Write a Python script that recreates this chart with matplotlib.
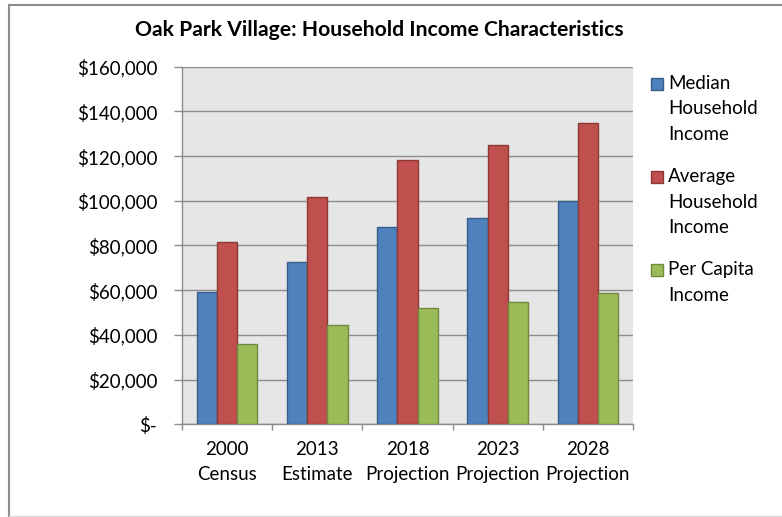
import matplotlib
matplotlib.use('Agg')
from matplotlib import pyplot as plt
from matplotlib.patches import Rectangle
from matplotlib.lines import Line2D
from matplotlib.ticker import FuncFormatter
import numpy as np

plt.rcParams['font.family'] = ['Lato', 'DejaVu Sans']
plt.rcParams['font.size'] = 13.5

title = 'Oak Park Village: Household Income Characteristics'
categories = ['2000\nCensus', '2013\nEstimate', '2018\nProjection',
              '2023\nProjection', '2028\nProjection']
series = ['Median\nHousehold\nIncome', 'Average\nHousehold\nIncome',
          'Per Capita\nIncome']
median_income = [59000, 72800, 88100, 92500, 100000]
average_income = [81600, 101600, 118400, 125100, 134800]
per_capita_income = [36100, 44400, 52000, 54700, 58900]

colors = ['#4F81BD', '#C0504D', '#9BBB59']
edges = ['#385D8A', '#8C3836', '#71893F']

W, H = 782, 517
fig = plt.figure(figsize=(W / 100, H / 100), dpi=100)
ax = fig.add_axes([182 / W, 1 - 424.3 / H, 451 / W, 357.6 / H])
ax.set_facecolor('#E6E6E6')

x = np.arange(len(categories))
w = 0.224
for k, vals in enumerate([median_income, average_income, per_capita_income]):
    ax.bar(x + (k - 1) * w, vals, w, color=colors[k], edgecolor=edges[k],
           linewidth=1.0, zorder=3)

ax.set_xlim(-0.5, len(categories) - 0.5)
ax.set_ylim(0, 160000)
ax.set_yticks(np.arange(0, 160001, 20000))
ax.yaxis.set_major_formatter(FuncFormatter(
    lambda v, p: '$-' if v == 0 else '${:,.0f}'.format(v)))
ax.grid(axis='y', color='#8C8C8C', linewidth=1.0, zorder=1)

# tick marks at category boundaries, labels at centres
ax.set_xticks(np.arange(-0.5, len(categories), 1.0))
ax.set_xticklabels([])
ax.set_xticks(x, minor=True)
ax.set_xticklabels(categories, minor=True, linespacing=1.55)
ax.tick_params(axis='x', which='minor', length=0, pad=12)
ax.tick_params(axis='x', which='major', length=4, color='#8C8C8C', width=1)
ax.tick_params(axis='y', length=5.8, color='#8C8C8C', width=1, pad=12)

for s in ['top', 'right']:
    ax.spines[s].set_visible(False)
for s in ['left', 'bottom']:
    ax.spines[s].set_color('#8C8C8C')
    ax.spines[s].set_linewidth(1.0)

fig.text(379 / W, 1 - 30 / H, title, ha='center', va='center', fontsize=15.2,
         fontweight='bold')

# legend: square beside the first line of each label
leg_y = [83.5, 176.7, 270]
for k, name in enumerate(series):
    fig.add_artist(Rectangle((651 / W, 1 - (leg_y[k] + 6) / H), 12 / W, 12 / H,
                             transform=fig.transFigure, facecolor=colors[k],
                             edgecolor=edges[k], linewidth=1.0))
    for j, line in enumerate(name.split('\n')):
        fig.text(668 / W, 1 - (leg_y[k] + 25.5 * j) / H, line, ha='left',
                 va='center')

# chart frame
fig.add_artist(Line2D([9 / W, 1], [1 - 5 / H, 1 - 5 / H],
                      transform=fig.transFigure, color='#8C8C8C', linewidth=1.5))
fig.add_artist(Line2D([9 / W, 9 / W], [1 / H, 1 - 5 / H],
                      transform=fig.transFigure, color='#8C8C8C', linewidth=1.5))
fig.add_artist(Line2D([9 / W, 1], [1 / H, 1 / H],
                      transform=fig.transFigure, color='#D9D9D9', linewidth=1.0))

fig.savefig('out.png', dpi=100)
